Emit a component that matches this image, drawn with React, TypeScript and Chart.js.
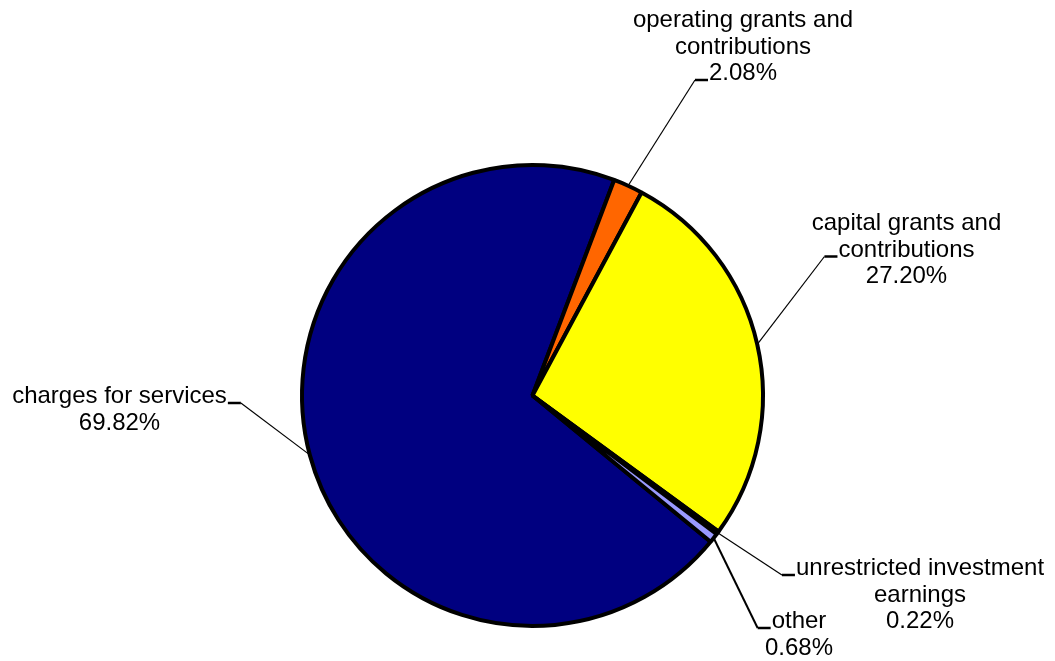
import React, { useEffect, useRef } from "react";
import { Chart, registerables } from "chart.js";

Chart.register(...registerables);

const categories = [
  "charges for services",
  "operating grants and contributions",
  "capital grants and contributions",
  "unrestricted investment earnings",
  "other",
];
const shares = [69.82, 2.08, 27.2, 0.22, 0.68];
const sliceColors = ["#000080", "#FF6600", "#FFFF00", "#008080", "#9999FF"];
const labelLines = [
  ["charges for services", "69.82%"],
  ["operating grants and", "contributions", "2.08%"],
  ["capital grants and", "contributions", "27.20%"],
  ["unrestricted investment", "earnings", "0.22%"],
  ["other", "0.68%"],
];
// label block placement relative to pie centre: [centreX, firstBaseline, tickLine, tickSide]
const labelPlacement: [number, number, number, "left" | "right"][] = [
  [-413, 7.5, 0, "right"],
  [210.5, -368.5, 2, "left"],
  [374, -165.5, 1, "left"],
  [387.5, 179.5, 0, "left"],
  [266.5, 232.5, 0, "left"],
];
const leaderWidths = [1.2, 1.2, 1.2, 1.2, 2];

const FONT = "24px 'Liberation Sans', Arial, sans-serif";
const LINE_H = 26.5;
const TICK = 13;

const labelPlugin = {
  id: "pieLabels",
  afterDraw(chart: any) {
    const ctx = chart.ctx;
    const meta = chart.getDatasetMeta(0);
    ctx.save();
    ctx.font = FONT;
    ctx.fillStyle = "#000";
    ctx.strokeStyle = "#000";
    ctx.textBaseline = "alphabetic";
    ctx.textAlign = "center";
    meta.data.forEach((arc: any, i: number) => {
      const p = arc.getProps(["x", "y", "startAngle", "endAngle", "outerRadius"], true);
      const mid = (p.startAngle + p.endAngle) / 2;
      const ax = p.x + p.outerRadius * Math.cos(mid);
      const ay = p.y + p.outerRadius * Math.sin(mid);
      const [dx, dy, tl, side] = labelPlacement[i];
      const cx = p.x + dx;
      const by = p.y + dy;
      const lines = labelLines[i];
      lines.forEach((ln, k) => ctx.fillText(ln, cx, by + k * LINE_H));
      const w = ctx.measureText(lines[tl]).width;
      const ty = by + tl * LINE_H;
      const edge = side === "left" ? cx - w / 2 - 1 : cx + w / 2 + 1;
      const far = side === "left" ? edge - TICK : edge + TICK;
      ctx.lineWidth = 2.5;
      ctx.beginPath();
      ctx.moveTo(edge, ty);
      ctx.lineTo(far, ty);
      ctx.stroke();
      ctx.lineWidth = leaderWidths[i];
      ctx.beginPath();
      ctx.moveTo(far, ty);
      ctx.lineTo(ax, ay);
      ctx.stroke();
    });
    ctx.restore();
  },
};

export default function App() {
  const ref = useRef<HTMLCanvasElement>(null);
  useEffect(() => {
    document.body.style.margin = "0";
    const chart = new Chart(ref.current as HTMLCanvasElement, {
      type: "pie",
      data: {
        labels: categories,
        datasets: [
          {
            data: shares,
            backgroundColor: sliceColors,
            borderColor: "#000",
            borderWidth: 4,
          },
        ],
      },
      options: {
        animation: false,
        responsive: false,
        rotation: 129.4,
        radius: 230.5,
        layout: { padding: { left: 10, right: 0, top: 130, bottom: 0 } },
        plugins: {
          legend: { display: false },
          tooltip: { enabled: false },
        },
      },
      plugins: [labelPlugin],
    });
    return () => chart.destroy();
  }, []);
  return (
    <div style={{ width: 1055, height: 661, background: "#fff" }}>
      <canvas ref={ref} width={1055} height={661} />
    </div>
  );
}
